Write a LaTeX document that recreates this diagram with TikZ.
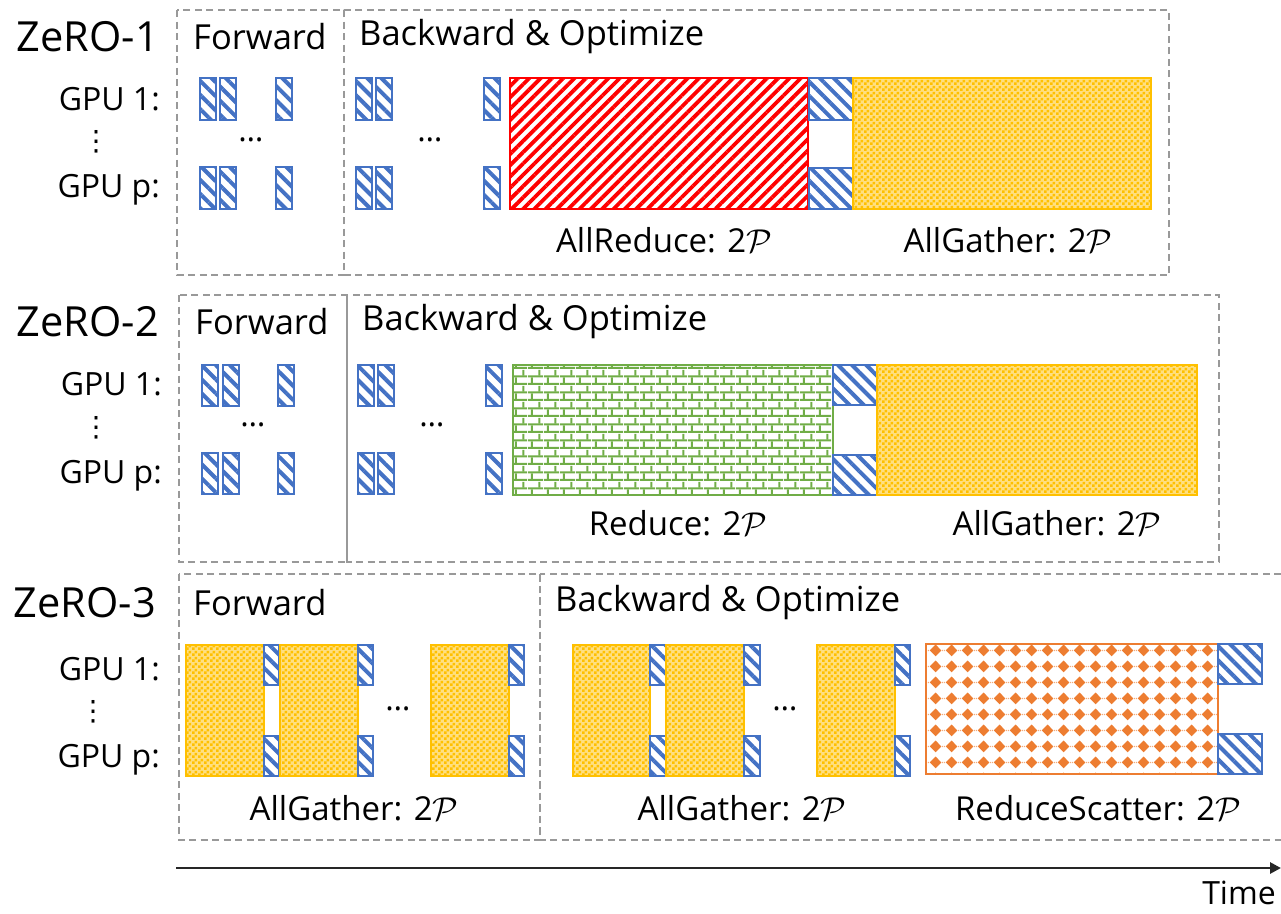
\documentclass[tikz,border=0pt]{standalone}
\usepackage{fontspec}
\setmainfont{Open Sans}
\newfontfamily\djv{DejaVu Sans}
\DeclareFontShape{OMS}{cmsy}{m}{n}{<->cmsy10}{}
\usetikzlibrary{patterns.meta,arrows.meta}

\definecolor{gblue}{HTML}{4472C4}
\definecolor{gred}{HTML}{FF0000}
\definecolor{gyel}{HTML}{FFC000}
\definecolor{ggreen}{HTML}{70AD47}
\definecolor{gorange}{HTML}{ED7D31}
\definecolor{gframe}{HTML}{999999}

\tikzdeclarepattern{name=checker, type=uncolored,
  bounding box={(0pt,0pt) and (6pt,6pt)}, tile size={(6pt,6pt)},
  code={\fill (0pt,0pt) rectangle (3pt,3pt); \fill (3pt,3pt) rectangle (6pt,6pt);}}
\tikzdeclarepattern{name=brick, type=uncolored,
  bounding box={(0pt,0pt) and (16pt,16pt)}, tile size={(16pt,16pt)},
  code={\fill (0pt,0pt) rectangle (16pt,2.2pt);
        \fill (0pt,8pt) rectangle (16pt,10.2pt);
        \fill (3pt,2pt) rectangle (5.2pt,8pt);
        \fill (11pt,10pt) rectangle (13.2pt,16pt);}}
\tikzdeclarepattern{name=diam, type=uncolored,
  bounding box={(0pt,0pt) and (16pt,16pt)}, tile size={(16pt,16pt)},
  code={\fill (8pt,1.8pt) -- (14.2pt,8pt) -- (8pt,14.2pt) -- (1.8pt,8pt) -- cycle;
        \fill (0pt,7.3pt) rectangle (0.7pt,8.7pt);
        \fill (15.3pt,7.3pt) rectangle (16pt,8.7pt);}}

\tikzset{
  frame/.style={draw=gframe, line width=1.5pt, dash pattern=on 7pt off 4.5pt},
  blueblk/.style={draw=gblue, line width=1.5pt, pattern={Lines[angle=-45,distance=10pt,line width=4pt]}, pattern color=gblue},
  redblk/.style={draw=gred, line width=1.5pt, pattern={Lines[angle=45,distance=8pt,line width=3.8pt]}, pattern color=gred},
  yelblk/.style={draw=gyel, line width=1.5pt, fill=gyel!50, postaction={pattern=checker, pattern color=gyel}},
  grnblk/.style={draw=ggreen, line width=1.5pt, pattern=brick, pattern color=ggreen},
  orgblk/.style={draw=gorange, line width=1.5pt, pattern=diam, pattern color=gorange},
  txt/.style={font=\fontsize{32}{38}\selectfont, inner sep=0pt},
  hdr/.style={font=\fontsize{34.5}{40}\selectfont, inner sep=0pt},
  lbl/.style={font=\fontsize{33}{40}\selectfont, inner sep=0pt},
  ttl/.style={font=\fontsize{41.5}{48}\selectfont, inner sep=0pt},
  dotsv/.style={font=\djv\fontsize{28}{30}\selectfont, inner sep=0pt},
}
\newcommand\calP{$\mathcal{P}$}

\begin{document}
\begin{tikzpicture}[x=1pt,y=-1pt]
\useasboundingbox (0,0) rectangle (1281,913);

% ================= ZeRO-1 =================
\draw[frame] (177,10) rectangle (344,275);
\draw[frame] (344,10) rectangle (1169,275);
\node[ttl] (z1) at (88,37) {ZeRO-1};
\node[hdr,anchor=west] (z1f) at (193,37) {Forward};
\node[hdr,anchor=west] (z1b) at (359,37) {Backward \& Optimize};
\node[txt,anchor=base east] (z1g1) at (160,110) {GPU 1:};
\node[txt,anchor=base east] (z1gp) at (160,197) {GPU p:};
\node[dotsv] (z1vd) at (96,142) {⋮};
\node[txt] (z1d1) at (251,140) {…};
\node[txt] (z1d2) at (430,140) {…};
\foreach \a/\b in {200/216,220/236,276/292,356/372,376/392,484/500}{
  \draw[blueblk] (\a,78) rectangle (\b,120);
  \draw[blueblk] (\a,167) rectangle (\b,209);
}
\draw[redblk] (510,78) rectangle (808,209);
\draw[blueblk] (809,78) rectangle (853,120);
\draw[blueblk] (809,168) rectangle (853,209);
\draw[yelblk] (853,78) rectangle (1151,209);
\node[lbl] (z1l1) at (664,240) {AllReduce: 2\calP};
\node[lbl] (z1l2) at (1008,240) {AllGather: 2\calP};

% ================= ZeRO-2 =================
\draw[frame] (179,295) rectangle (347,562);
\draw[frame] (347,295) rectangle (1219,562);
\node[ttl] (z2) at (88,322) {ZeRO-2};
\node[hdr,anchor=west] (z2f) at (195,322) {Forward};
\node[hdr,anchor=west] (z2b) at (362,322) {Backward \& Optimize};
\node[txt,anchor=base east] (z2g1) at (162,395) {GPU 1:};
\node[txt,anchor=base east] (z2gp) at (162,483) {GPU p:};
\node[dotsv] (z2vd) at (96,428) {⋮};
\node[txt] (z2d1) at (253,425) {…};
\node[txt] (z2d2) at (432,425) {…};
\foreach \a/\b in {202/218,223/239,278/294,358/374,378/394,486/502}{
  \draw[blueblk] (\a,365) rectangle (\b,406);
  \draw[blueblk] (\a,453) rectangle (\b,494);
}
\draw[grnblk] (513,365) rectangle (833,495);
\draw[blueblk] (833,365) rectangle (877,405);
\draw[blueblk] (833,455) rectangle (877,495);
\draw[yelblk] (877,365) rectangle (1197,495);
\node[lbl] (z2l1) at (678,523) {Reduce: 2\calP};
\node[lbl] (z2l2) at (1057,523) {AllGather: 2\calP};

% ================= ZeRO-3 =================
\draw[frame] (179,574) rectangle (540,840);
\draw[frame] (540,574) rectangle (1300,840);
\node[ttl] (z3) at (85,603) {ZeRO-3};
\node[hdr,anchor=west] (z3f) at (193,603) {Forward};
\node[hdr,anchor=west] (z3b) at (555,603) {Backward \& Optimize};
\node[txt,anchor=base east] (z3g1) at (160,680) {GPU 1:};
\node[txt,anchor=base east] (z3gp) at (160,767) {GPU p:};
\node[dotsv] (z3vd) at (93,712) {⋮};
\node[txt] (z3d1) at (398,709) {…};
\node[txt] (z3d2) at (785,709) {…};
\foreach \a/\b/\c in {186/264/279,280/358/373,431/509/524,573/650/666,666/744/760,817/895/910}{
  \draw[yelblk] (\a,645) rectangle (\b,776);
  \draw[blueblk] (\b,645) rectangle (\c,685);
  \draw[blueblk] (\b,736) rectangle (\c,776);
}
\draw[orgblk] (926,644) rectangle (1218,774);
\draw[blueblk] (1218,644) rectangle (1262,684);
\draw[blueblk] (1218,734) rectangle (1262,774);
\node[lbl] (z3l1) at (354,808) {AllGather: 2\calP};
\node[lbl] (z3l2) at (742,808) {AllGather: 2\calP};
\node[lbl] (z3l3) at (1098,808) {ReduceScatter: 2\calP};

% ================= Time axis =================
\coordinate (t0) at (176,868);
\coordinate (t1) at (1281,868);
\draw[line width=2.8pt, black!85, -{Triangle[length=11pt,width=11pt]}] (t0) -- (t1);
\node[txt,anchor=east] (time) at (1276,893) {Time};
\end{tikzpicture}
\end{document}
